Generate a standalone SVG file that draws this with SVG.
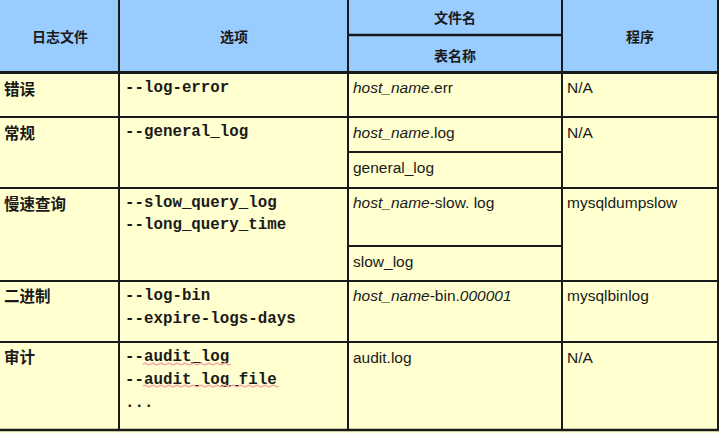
<svg xmlns="http://www.w3.org/2000/svg" width="719" height="433" viewBox="0 0 719 433">
<style>
.hd{fill:#99ccff}
.bd{fill:#ffffcf}
.ln{stroke:#1a1a1a;stroke-width:2;fill:none}
.th{font-family:"Noto Sans CJK SC","Noto Sans",sans-serif;font-size:14px;font-weight:bold;fill:#1a1a1a;text-anchor:middle}
.zh{font-family:"Noto Sans CJK SC","Noto Sans",sans-serif;font-size:15.5px;font-weight:bold;fill:#1a1a1a}
.mo{font-family:"Liberation Mono",monospace;font-size:15.8px;font-weight:bold;fill:#1a1a1a}
.sa{font-family:"Liberation Sans",Arial,sans-serif;font-size:15.5px;fill:#1a1a1a}
.it{font-style:italic}
.sq{stroke:#f2a6a6;stroke-width:1.5;fill:none}
</style>
<rect class="hd" x="0" y="0" width="719" height="72"/>
<rect class="bd" x="0" y="72" width="719" height="361"/>
<g id="grid">
<line class="ln" x1="119" y1="0" x2="119" y2="431"/>
<line class="ln" x1="348" y1="0" x2="348" y2="431"/>
<line class="ln" x1="562" y1="0" x2="562" y2="431"/>
<line class="ln" x1="718" y1="0" x2="718" y2="431"/>
<line class="ln" x1="348" y1="35" x2="562" y2="35" style="stroke-width:2.5"/>
<line class="ln" x1="0" y1="72.5" x2="719" y2="72.5" style="stroke-width:3"/>
<line class="ln" x1="0" y1="117" x2="719" y2="117"/>
<line class="ln" x1="348" y1="152" x2="562" y2="152"/>
<line class="ln" x1="0" y1="188" x2="719" y2="188"/>
<line class="ln" x1="348" y1="246" x2="562" y2="246"/>
<line class="ln" x1="0" y1="281" x2="719" y2="281"/>
<line class="ln" x1="0" y1="342" x2="719" y2="342"/>
<line class="ln" x1="0" y1="430" x2="719" y2="430" style="stroke-width:2.5"/>
</g>
<g id="header">
<text class="th" x="60" y="42">日志文件</text>
<text class="th" x="234" y="42">选项</text>
<text class="th" x="455" y="23">文件名</text>
<text class="th" x="455" y="61">表名称</text>
<text class="th" x="640" y="42">程序</text>
</g>
<g id="row-error">
<text class="zh" x="4" y="95">错误</text>
<text class="mo" x="125" y="92">--log-error</text>
<text class="sa" x="353" y="93"><tspan class="it">host_name</tspan>.err</text>
<text class="sa" x="567" y="93">N/A</text>
</g>
<g id="row-general">
<text class="zh" x="4" y="139">常规</text>
<text class="mo" x="125" y="136">--general_log</text>
<text class="sa" x="353" y="138"><tspan class="it">host_name</tspan>.log</text>
<text class="sa" x="353" y="173">general_log</text>
<text class="sa" x="567" y="138">N/A</text>
</g>
<g id="row-slow">
<text class="zh" x="4" y="210">慢速查询</text>
<text class="mo" x="125" y="207">--slow_query_log</text>
<text class="mo" x="125" y="229">--long_query_time</text>
<text class="sa" x="353" y="208"><tspan class="it">host_name</tspan>-slow. log</text>
<text class="sa" x="353" y="267">slow_log</text>
<text class="sa" x="567" y="208">mysqldumpslow</text>
</g>
<g id="row-binary">
<text class="zh" x="4" y="302">二进制</text>
<text class="mo" x="125" y="300">--log-bin</text>
<text class="mo" x="125" y="323">--expire-logs-days</text>
<text class="sa" x="353" y="301"><tspan class="it">host_name</tspan>-bin.<tspan class="it">000001</tspan></text>
<text class="sa" x="567" y="301">mysqlbinlog</text>
</g>
<g id="row-audit">
<text class="zh" x="4" y="363">审计</text>
<text class="mo" x="125" y="361">--audit_log</text>
<text class="mo" x="125" y="384">--audit_log_file</text>
<text class="mo" x="125" y="407">...</text>
<path class="sq" d="M143 364 q2 -1.5 4 0 t4 0 t4 0 t4 0 t4 0 t4 0 t4 0 t4 0 t4 0 t4 0 t4 0 t4 0 t4 0 t4 0 t4 0 t4 0 t4 0 t4 0 t4 0 t4 0 t4 0 t4 0"/>
<path class="sq" d="M143 386 q2 -1.5 4 0 t4 0 t4 0 t4 0 t4 0 t4 0 t4 0 t4 0 t4 0 t4 0 t4 0 t4 0 t4 0 t4 0 t4 0 t4 0 t4 0 t4 0 t4 0 t4 0 t4 0 t4 0 t4 0 t4 0 t4 0 t4 0 t4 0 t4 0 t4 0 t4 0 t4 0 t4 0 t4 0 t4 0"/>
<text class="sa" x="353" y="363">audit.log</text>
<text class="sa" x="567" y="363">N/A</text>
</g>
</svg>
